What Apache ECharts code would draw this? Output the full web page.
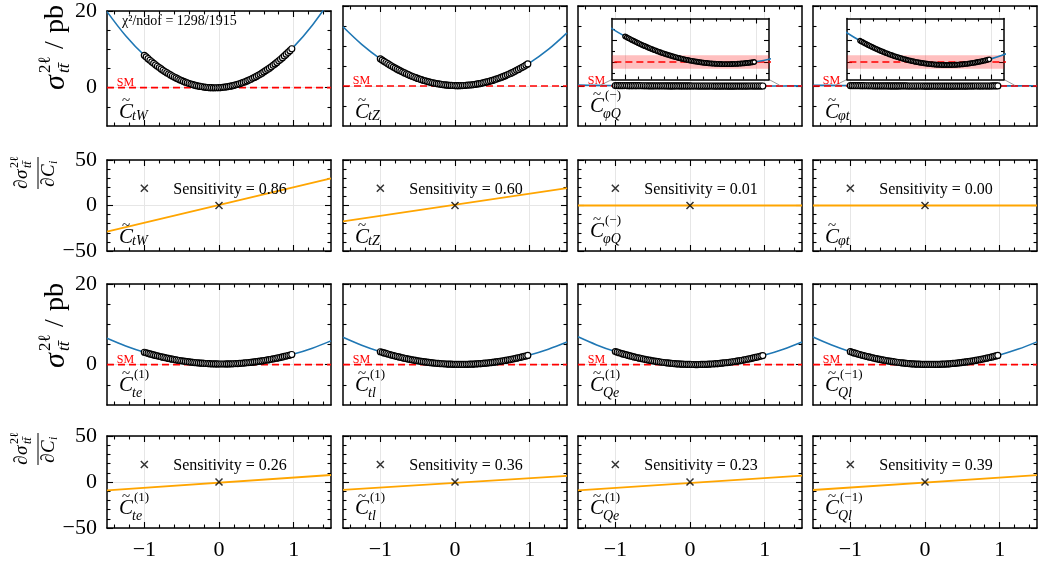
<!DOCTYPE html>
<html><head><meta charset="utf-8">
<script src="https://cdn.jsdelivr.net/npm/echarts@6/dist/echarts.min.js"></script>
<style>html,body{margin:0;padding:0;background:#fff}#c{width:1038px;height:562px}</style>
</head><body><div id="c"></div>
<script>
// ================= DATA =================
const curveX = [-1.5,-1.25,-1,-0.75,-0.5,-0.25,0,0.25,0.5,0.75,1,1.25,1.5];
const pointX = [-1,-0.975,-0.95,-0.925,-0.9,-0.875,-0.85,-0.825,-0.8,-0.775,
  -0.75,-0.725,-0.7,-0.675,-0.65,-0.625,-0.6,-0.575,-0.55,-0.525,
  -0.5,-0.475,-0.45,-0.425,-0.4,-0.375,-0.35,-0.325,-0.3,-0.275,
  -0.25,-0.225,-0.2,-0.175,-0.15,-0.125,-0.1,-0.075,-0.05,-0.025,
  0,0.025,0.05,0.075,0.1,0.125,0.15,0.175,0.2,0.225,
  0.25,0.275,0.3,0.325,0.35,0.375,0.4,0.425,0.45,0.475,
  0.5,0.525,0.55,0.575,0.6,0.625,0.65,0.675,0.7,0.725,
  0.75,0.775,0.8,0.825,0.85,0.875,0.9,0.925,0.95,0.975];

const curve_CtW = [19.84,13.55,8.45,4.55,1.84,0.32,0,0.87,2.94,6.20,10.65,16.30,23.14];
const points_CtW = [8.45,8.01,7.57,7.15,6.75,6.35,5.96,5.59,5.23,4.88,
  4.55,4.22,3.91,3.61,3.32,3.04,2.78,2.53,2.28,2.05,
  1.84,1.63,1.44,1.26,1.09,0.93,0.78,0.65,0.53,0.42,
  0.32,0.24,0.16,0.10,0.05,0.01,-0.01,-0.03,-0.03,-0.02,
  0,0.03,0.08,0.14,0.21,0.29,0.38,0.49,0.60,0.73,
  0.87,1.02,1.19,1.37,1.55,1.76,1.97,2.19,2.43,2.68,
  2.94,3.21,3.49,3.79,4.10,4.42,4.75,5.09,5.45,5.82,
  6.20,6.59,6.99,7.41,7.83,8.27,8.73,9.19,9.66,10.15];

const curve_CtZ = [14.80,10.41,6.80,3.96,1.90,0.61,0.10,0.36,1.40,3.21,5.80,9.16,13.30];
const points_CtZ = [6.80,6.48,6.17,5.87,5.57,5.28,5.00,4.73,4.47,4.21,
  3.96,3.72,3.49,3.26,3.04,2.83,2.63,2.44,2.25,2.07,
  1.90,1.74,1.58,1.43,1.29,1.16,1.03,0.92,0.81,0.71,
  0.61,0.53,0.45,0.38,0.31,0.26,0.21,0.17,0.14,0.12,
  0.10,0.09,0.09,0.10,0.11,0.13,0.16,0.20,0.25,0.30,
  0.36,0.43,0.51,0.59,0.68,0.78,0.89,1.01,1.13,1.26,
  1.40,1.55,1.70,1.86,2.03,2.21,2.39,2.59,2.79,3.00,
  3.21,3.44,3.67,3.91,4.15,4.41,4.67,4.94,5.22,5.51];

const curve_CphiQm = [0.2134,0.1624,0.1180,0.0802,0.0491,0.0246,0.0067,-0.0046,-0.0092,-0.0072,0.0014,0.0166,0.0385];
const points_CphiQm = [0.1180,0.1139,0.1099,0.1060,0.1021,0.0983,0.0946,0.0909,0.0873,0.0837,
  0.0802,0.0768,0.0735,0.0702,0.0670,0.0638,0.0608,0.0577,0.0548,0.0519,
  0.0491,0.0464,0.0437,0.0411,0.0385,0.0360,0.0336,0.0313,0.0290,0.0267,
  0.0246,0.0225,0.0205,0.0185,0.0166,0.0148,0.0131,0.0114,0.0098,0.0082,
  0.0067,0.0053,0.0039,0.0026,0.0014,0.0002,-0.0009,-0.0019,-0.0028,-0.0037,
  -0.0046,-0.0053,-0.0060,-0.0067,-0.0072,-0.0077,-0.0081,-0.0085,-0.0088,-0.0090,
  -0.0092,-0.0093,-0.0093,-0.0093,-0.0092,-0.0091,-0.0088,-0.0085,-0.0081,-0.0077,
  -0.0072,-0.0067,-0.0060,-0.0053,-0.0046,-0.0037,-0.0029,-0.0019,-0.0009,0.0002];

const curve_Cphit = [0.1975,0.1438,0.0980,0.0601,0.0300,0.0078,-0.0066,-0.0131,-0.0118,-0.0025,0.0146,0.0396,0.0724];
const points_Cphit = [0.0980,0.0939,0.0898,0.0858,0.0819,0.0781,0.0743,0.0706,0.0670,0.0635,
  0.0601,0.0567,0.0534,0.0502,0.0471,0.0440,0.0411,0.0382,0.0354,0.0326,
  0.0300,0.0274,0.0249,0.0225,0.0201,0.0179,0.0157,0.0136,0.0116,0.0096,
  0.0078,0.0060,0.0043,0.0026,0.0011,-0.0004,-0.0018,-0.0031,-0.0044,-0.0055,
  -0.0066,-0.0076,-0.0085,-0.0094,-0.0101,-0.0108,-0.0114,-0.0120,-0.0124,-0.0128,
  -0.0131,-0.0133,-0.0135,-0.0135,-0.0135,-0.0134,-0.0132,-0.0130,-0.0126,-0.0122,
  -0.0118,-0.0112,-0.0105,-0.0098,-0.0090,-0.0081,-0.0071,-0.0061,-0.0050,-0.0038,
  -0.0025,-0.0011,0.0003,0.0018,0.0034,0.0051,0.0068,0.0087,0.0105,0.0125];

const curve_Cte1 = [6.55,4.64,3.08,1.85,0.95,0.39,0.17,0.28,0.73,1.52,2.64,4.10,5.90];
const points_Cte1 = [3.08,2.94,2.80,2.67,2.54,2.42,2.30,2.18,2.07,1.95,
  1.85,1.74,1.64,1.54,1.45,1.36,1.27,1.18,1.10,1.03,
  0.95,0.88,0.81,0.75,0.69,0.63,0.58,0.52,0.48,0.43,
  0.39,0.36,0.32,0.29,0.26,0.24,0.22,0.20,0.19,0.18,
  0.17,0.17,0.17,0.17,0.18,0.18,0.20,0.21,0.23,0.26,
  0.28,0.31,0.35,0.38,0.42,0.47,0.51,0.56,0.62,0.67,
  0.73,0.80,0.86,0.93,1.01,1.09,1.17,1.25,1.34,1.43,
  1.52,1.62,1.72,1.82,1.93,2.04,2.15,2.27,2.39,2.52];

const curve_Ctl1 = [6.80,4.83,3.20,1.91,0.96,0.35,0.08,0.15,0.56,1.31,2.40,3.83,5.60];
const points_Ctl1 = [3.20,3.06,2.91,2.78,2.64,2.51,2.39,2.26,2.14,2.02,
  1.91,1.80,1.69,1.59,1.49,1.39,1.30,1.21,1.12,1.04,
  0.96,0.88,0.81,0.74,0.68,0.61,0.55,0.50,0.44,0.40,
  0.35,0.31,0.27,0.23,0.20,0.17,0.15,0.13,0.11,0.09,
  0.08,0.07,0.07,0.07,0.07,0.07,0.08,0.09,0.11,0.13,
  0.15,0.18,0.20,0.24,0.27,0.31,0.36,0.40,0.45,0.50,
  0.56,0.62,0.68,0.75,0.82,0.89,0.97,1.05,1.13,1.22,
  1.31,1.40,1.50,1.60,1.71,1.81,1.92,2.04,2.15,2.28];

const curve_CQe1 = [6.91,4.90,3.24,1.93,0.96,0.33,0.05,0.12,0.53,1.28,2.38,3.83,5.62];
const points_CQe1 = [3.24,3.09,2.95,2.81,2.67,2.54,2.41,2.28,2.16,2.04,
  1.93,1.81,1.70,1.60,1.50,1.40,1.30,1.21,1.12,1.04,
  0.96,0.88,0.80,0.73,0.66,0.60,0.54,0.48,0.43,0.38,
  0.33,0.29,0.25,0.21,0.18,0.15,0.12,0.10,0.08,0.06,
  0.05,0.04,0.04,0.03,0.03,0.04,0.05,0.06,0.07,0.09,
  0.12,0.14,0.17,0.20,0.24,0.28,0.32,0.37,0.42,0.47,
  0.53,0.58,0.65,0.72,0.79,0.86,0.94,1.02,1.10,1.19,
  1.28,1.37,1.47,1.57,1.68,1.79,1.90,2.01,2.13,2.25];

const curve_CQlm1 = [6.85,4.86,3.21,1.91,0.95,0.33,0.06,0.13,0.55,1.31,2.41,3.86,5.65];
const points_CQlm1 = [3.21,3.06,2.92,2.78,2.65,2.52,2.39,2.26,2.14,2.02,
  1.91,1.80,1.69,1.58,1.48,1.38,1.29,1.20,1.11,1.03,
  0.95,0.87,0.80,0.73,0.66,0.60,0.54,0.48,0.43,0.38,
  0.33,0.29,0.25,0.21,0.18,0.15,0.13,0.11,0.09,0.07,
  0.06,0.05,0.05,0.05,0.05,0.05,0.06,0.07,0.09,0.11,
  0.13,0.16,0.19,0.22,0.26,0.30,0.34,0.39,0.44,0.49,
  0.55,0.61,0.67,0.74,0.81,0.88,0.96,1.04,1.13,1.22,
  1.31,1.40,1.50,1.60,1.71,1.82,1.93,2.04,2.16,2.28];

// sensitivity (derivative) lines, values at x = -1.5 and x = 1.5
const lineX = [-1.5, 1.5];
const sens_CtW = [-28.8, 29.9];
const sens_CtZ = [-17.5, 19.0];
const sens_CphiQm = [0, 0];
const sens_Cphit = [0, 0];
const sens_Cte1 = [-9.2, 7.6];
const sens_Ctl1 = [-8.5, 6.7];
const sens_CQe1 = [-9.0, 6.9];
const sens_CQlm1 = [-8.7, 7.4];
const sensitivityValues = ['0.86','0.60','0.01','0.00','0.26','0.36','0.23','0.39'];
const markerX = [-1, 0];
const markerY = [19, 0];

const smX = [-1.5, 1.5];
const smY = [0, 0];
const insetBand = [-0.031, 0.031];

const xTickLabels = [-1, 0, 1];
const yTickLabelsXsec = [0, 20];
const yTickLabelsSens = [-50, 0, 50];
const chi2Text = 'χ²/ndof = 1298/1915';

const coefRow1 = [{sub:'tW'},{sub:'tZ'},{sup:'(−)',sub:'φQ'},{sub:'φt'}];
const coefRow3 = [{sup:'(1)',sub:'te'},{sup:'(1)',sub:'tl'},{sup:'(1)',sub:'Qe'},{sup:'(−1)',sub:'Ql'}];

// ================= LAYOUT / STYLE =================
const SERIF = '"Liberation Serif","DejaVu Serif",serif';
const COL_L = [107,343,578,813], PW = 224;
const ROW_T = [6,160,284,436], ROW_H = [120,91,121,92];
const X_MAJ = [-1,0,1], X_MIN = [-1.4,-1.2,-0.8,-0.6,-0.4,-0.2,0.2,0.4,0.6,0.8,1.2,1.4];
const YX_MAJ = [0,20], YX_MIN = [-5,5,10,15];
const YS_MAJ = [-50,0,50], YS_MIN = [-40,-30,-20,-10,10,20,30,40];
const IX_MAJ = [-1,0,1], IX_MIN = [-0.8,-0.6,-0.4,-0.2,0.2,0.4,0.6,0.8];
const IY_MAJ = [0,0.1], IY_MIN = [-0.05,0.05,0.15];

const zip = (xs, ys) => xs.map((x,i)=>[x, ys[i]]);
const fmt = v => (v < 0 ? '\u2212' + (-v) : '' + v);

const grids = [], xAxes = [], yAxes = [], series = [];

function axisDef(g, min, max, pos, ticks, len, o) {
  return {
    type:'value', gridIndex:g, min, max, position:pos, z:o.z||0,
    axisLine:{show:!!o.line, onZero:false, lineStyle:{color:'#000', width:1.5}},
    axisTick:{show:true, inside:true, length:len, customValues:ticks, lineStyle:{color:'#000', width:1.1}},
    axisLabel: o.labels ? {show:true, customValues:o.labels, formatter:fmt, margin:o.margin||10,
      color:'#000', fontFamily:SERIF, fontSize:22} : {show:false},
    splitLine:{show:!!o.split, lineStyle:{color:'#e6e6e6', width:1}},
    axisPointer:{show:false}
  };
}
function addAxes(dim, g, min, max, majors, minors, o) {
  const arr = dim === 'x' ? xAxes : yAxes;
  const p1 = dim === 'x' ? 'bottom' : 'left', p2 = dim === 'x' ? 'top' : 'right';
  const idx = arr.length;
  arr.push(axisDef(g,min,max,p1,majors,o.majLen||6,{line:true, labels:o.labels, split:o.split, margin:o.margin, z:o.z}));
  arr.push(axisDef(g,min,max,p1,minors,o.minLen||3.5,{line:false, z:o.z}));
  arr.push(axisDef(g,min,max,p2,majors,o.majLen||6,{line:true, z:o.z}));
  arr.push(axisDef(g,min,max,p2,minors,o.minLen||3.5,{line:false, z:o.z}));
  return idx;
}

const panels = [
  {row:0,col:0,kind:'x',curve:curve_CtW,points:points_CtW,coef:coefRow1[0]},
  {row:0,col:1,kind:'x',curve:curve_CtZ,points:points_CtZ,coef:coefRow1[1]},
  {row:0,col:2,kind:'x',curve:curve_CphiQm,points:points_CphiQm,coef:coefRow1[2],inset:true},
  {row:0,col:3,kind:'x',curve:curve_Cphit,points:points_Cphit,coef:coefRow1[3],inset:true},
  {row:1,col:0,kind:'s',line:sens_CtW,sens:sensitivityValues[0],coef:coefRow1[0]},
  {row:1,col:1,kind:'s',line:sens_CtZ,sens:sensitivityValues[1],coef:coefRow1[1]},
  {row:1,col:2,kind:'s',line:sens_CphiQm,sens:sensitivityValues[2],coef:coefRow1[2]},
  {row:1,col:3,kind:'s',line:sens_Cphit,sens:sensitivityValues[3],coef:coefRow1[3]},
  {row:2,col:0,kind:'x',curve:curve_Cte1,points:points_Cte1,coef:coefRow3[0]},
  {row:2,col:1,kind:'x',curve:curve_Ctl1,points:points_Ctl1,coef:coefRow3[1]},
  {row:2,col:2,kind:'x',curve:curve_CQe1,points:points_CQe1,coef:coefRow3[2]},
  {row:2,col:3,kind:'x',curve:curve_CQlm1,points:points_CQlm1,coef:coefRow3[3]},
  {row:3,col:0,kind:'s',line:sens_Cte1,sens:sensitivityValues[4],coef:coefRow3[0]},
  {row:3,col:1,kind:'s',line:sens_Ctl1,sens:sensitivityValues[5],coef:coefRow3[1]},
  {row:3,col:2,kind:'s',line:sens_CQe1,sens:sensitivityValues[6],coef:coefRow3[2]},
  {row:3,col:3,kind:'s',line:sens_CQlm1,sens:sensitivityValues[7],coef:coefRow3[3]},
];

const insets = [];
panels.forEach(p => {
  const g = grids.length;
  const L = COL_L[p.col], T = ROW_T[p.row], H = ROW_H[p.row];
  p.L = L; p.T = T; p.H = H;
  grids.push({left:L, top:T, width:PW, height:H});
  const isX = p.kind === 'x';
  const xi = addAxes('x', g, -1.5, 1.5, X_MAJ, X_MIN, {labels: p.row === 3 ? xTickLabels : null, split:true, margin:11});
  const yi = addAxes('y', g, isX ? -10 : -50, isX ? 20 : 50, isX ? YX_MAJ : YS_MAJ, isX ? YX_MIN : YS_MIN,
    {labels: p.col === 0 ? (isX ? yTickLabelsXsec : yTickLabelsSens) : null, split:true, margin:10});
  p.xi = xi; p.yi = yi;
  const base = {xAxisIndex:xi, yAxisIndex:yi, silent:true, animation:false};
  if (isX) {
    series.push(Object.assign({type:'line', data:zip(curveX, p.curve), symbol:'none', smooth:0.35,
      lineStyle:{color:'#1f77b4', width:1.6}, z:2}, base));
    series.push(Object.assign({type:'line', data:zip(smX, smY), symbol:'none',
      lineStyle:{color:'#ff0000', width:1.6, type:[7,4]}, z:3}, base));
    series.push(Object.assign({type:'scatter', data:zip(pointX, p.points), symbol:'circle', symbolSize:6,
      itemStyle:{color:'#fff', borderColor:'#000', borderWidth:1.2, opacity:1}, z:4}, base));
    if (p.inset) {
      const gi = grids.length;
      const ig = {left:L+34, top:18.5, width:157, height:61};
      grids.push(ig);
      const ixi = addAxes('x', gi, -1.2, 1.2, IX_MAJ, IX_MIN, {split:true, z:6, majLen:5, minLen:3});
      const iyi = addAxes('y', gi, -0.08, 0.2, IY_MAJ, IY_MIN, {z:6, majLen:5, minLen:3});
      const ib = {xAxisIndex:ixi, yAxisIndex:iyi, silent:true, animation:false};
      series.push(Object.assign({type:'line', data:zip(smX, smY), symbol:'none',
        lineStyle:{color:'#ff0000', width:1.6, type:[7,4]}, z:7,
        markArea:{silent:true, z:6.5, itemStyle:{color:'rgba(255,0,0,0.25)'},
          data:[[{yAxis:insetBand[0]},{yAxis:insetBand[1]}]]}}, ib));
      series.push(Object.assign({type:'line', data:zip(curveX, p.curve), symbol:'none', smooth:0.35,
        lineStyle:{color:'#1f77b4', width:1.6}, z:8}, ib));
      series.push(Object.assign({type:'scatter', data:zip(pointX, p.points), symbol:'circle', symbolSize:4.5,
        itemStyle:{color:'#fff', borderColor:'#000', borderWidth:1.4, opacity:1}, z:9}, ib));
      insets.push({p, ig});
    }
  } else {
    series.push(Object.assign({type:'line', data:zip(lineX, p.line), symbol:'none',
      lineStyle:{color:'#ffa500', width:1.8}, z:3}, base));
    series.push(Object.assign({type:'scatter', data:zip(markerX, markerY), symbol:'path://M0,0L10,10M10,0L0,10',
      symbolSize:7, itemStyle:{color:'rgba(0,0,0,0)', borderColor:'#000', borderWidth:1.5}, z:4}, base));
  }
});

const chart = echarts.init(document.getElementById('c'), null, {renderer:'canvas', width:1038, height:562});
chart.setOption({
  animation:false, backgroundColor:'#fff',
  grid:grids, xAxis:xAxes, yAxis:yAxes, series:series
});

// ================= TEXT / DECORATIONS =================
function txt(x, y, text, size, o) {
  o = o || {};
  return {type:'text', x, y, z:o.z||20, silent:true,
    style:{text, fill:o.fill||'#000', font:(o.italic?'italic ':'') + size + 'px ' + SERIF,
      align:o.align||'left', verticalAlign:o.va||'middle'}};
}
const els = [];
panels.forEach(p => {
  const B = p.T + p.H, L = p.L;
  const c = p.coef;
  const cy = c.sup ? B - 20 : B - 13.5;
  els.push(txt(L+12, cy, 'C', 21, {italic:true}));
  els.push(txt(L+15, cy-11, '~', 15));
  if (c.sup) els.push(txt(L+27, cy-10, c.sup, 13));
  els.push(txt(L+25, cy + (c.sup ? 8 : 4), c.sub, 14, {italic:true}));
  if (p.kind === 'x') {
    const sm = chart.convertToPixel({xAxisIndex:p.xi, yAxisIndex:p.yi}, [-1.37, smY[0]]);
    els.push(txt(sm[0], sm[1]-5, 'SM', 12, {fill:'#ff0000'}));
  } else {
    els.push(txt(L+123, p.T+30, 'Sensitivity = ' + p.sens, 16, {align:'center'}));
  }
});
els.push(txt(COL_L[0]+15, ROW_T[0]+15.5, chi2Text, 14));

// inset backgrounds and connectors
insets.forEach(({p, ig}) => {
  els.push({type:'rect', z:5, silent:true, shape:{x:ig.left, y:ig.top, width:ig.width, height:ig.height}, style:{fill:'#fff'}});
  const a = chart.convertToPixel({xAxisIndex:p.xi, yAxisIndex:p.yi}, [-1.2, 0.2]);
  const b = chart.convertToPixel({xAxisIndex:p.xi, yAxisIndex:p.yi}, [1.2, 0.2]);
  const bot = ig.top + ig.height;
  els.push({type:'line', z:5, silent:true, shape:{x1:ig.left, y1:bot, x2:a[0], y2:a[1]}, style:{stroke:'#9a9a9a', lineWidth:1}});
  els.push({type:'line', z:5, silent:true, shape:{x1:ig.left+ig.width, y1:bot, x2:b[0], y2:b[1]}, style:{stroke:'#9a9a9a', lineWidth:1}});
});

// y-axis titles
[0, 2].forEach(r => {
  const T = ROW_T[r];
  els.push({type:'group', x:56, y:T+84, rotation:Math.PI/2, children:[
    txt(0, 0, 'σ', 30, {italic:true}),
    txt(17, -10, '2ℓ', 17),
    txt(17, 9, 'tt\u0304', 17, {italic:true}),
    txt(41, 0, '/', 28),
    txt(57, 0, 'pb', 28)
  ]});
});
[1, 3].forEach(r => {
  const T = ROW_T[r];
  els.push({type:'group', x:38, y:T+13, rotation:Math.PI/2, children:[
    {type:'line', z:20, silent:true, shape:{x1:-16, y1:0, x2:16, y2:0}, style:{stroke:'#000', lineWidth:1}},
    txt(-16, -16, '∂', 19),
    txt(-6, -16, 'σ', 19, {italic:true}),
    txt(5, -23, '2ℓ', 12),
    txt(5, -10, 'tt\u0304', 12, {italic:true}),
    txt(-14, 11, '∂', 19),
    txt(-4, 11, 'C', 19, {italic:true}),
    txt(9, 16, 'i', 12, {italic:true})
  ]});
});

chart.setOption({graphic:{elements:els}});
</script>
</body></html>
